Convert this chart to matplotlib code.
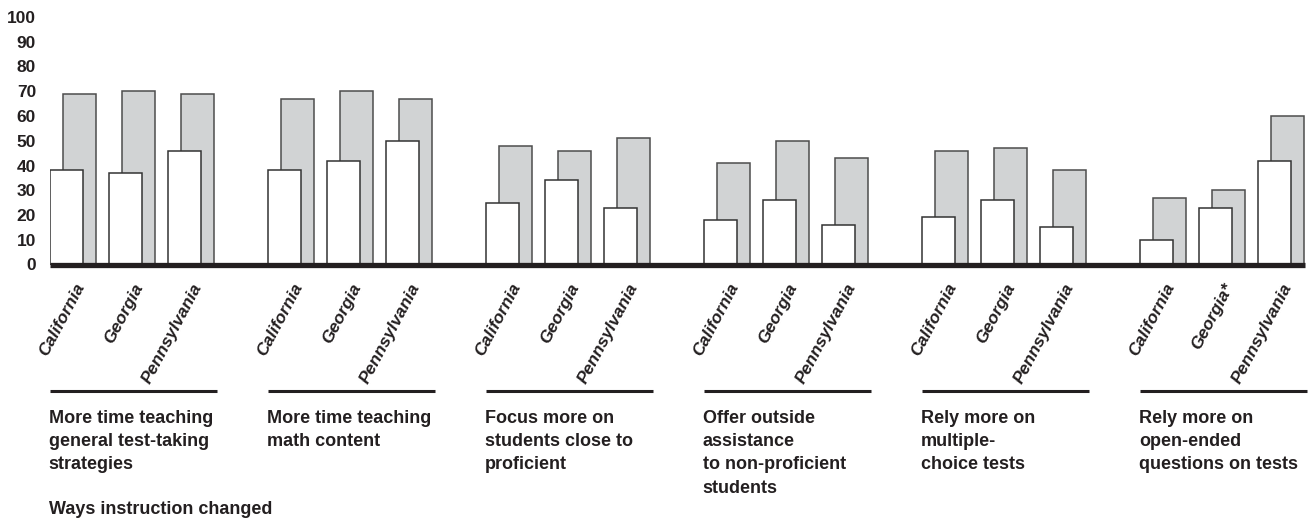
import matplotlib
matplotlib.use('Agg')
import matplotlib.pyplot as plt
from matplotlib.transforms import blended_transform_factory

groups = ['More time teaching\ngeneral test-taking\nstrategies',
          'More time teaching\nmath content',
          'Focus more on\nstudents close to\nproficient',
          'Offer outside\nassistance\nto non-proficient\nstudents',
          'Rely more on\nmultiple-\nchoice tests',
          'Rely more on\nopen-ended\nquestions on tests']
states = ['California', 'Georgia', 'Pennsylvania']
# group 6 Georgia carries an asterisk in the source
state_labels = [states, states, states, states, states,
                ['California', 'Georgia*', 'Pennsylvania']]

# grey (back) bars and white (front) bars, percent
back_values = [[69, 70, 69],
               [67, 70, 67],
               [48, 46, 51],
               [41, 50, 43],
               [46, 47, 38],
               [27, 30, 60]]
front_values = [[38, 37, 46],
                [38, 42, 50],
                [25, 34, 23],
                [18, 26, 16],
                [19, 26, 15],
                [10, 23, 42]]

yticks = list(range(0, 101, 10))
footer = 'Ways instruction changed'

ink = '#231f20'
grey = '#d1d3d4'
plt.rcParams['font.family'] = ['Liberation Sans', 'DejaVu Sans']

group_gap = 3.695
width = 0.56
shift = 0.22

fig = plt.figure(figsize=(13.08, 5.23), dpi=100)
ax = fig.add_axes([50 / 1308, 1 - 264.5 / 523, 1255 / 1308, 247.5 / 523])
mix = blended_transform_factory(ax.transData, fig.transFigure)

for g, name in enumerate(groups):
    x0 = g * group_gap
    for s in range(len(states)):
        x = x0 + s
        ax.bar(x + shift, back_values[g][s], width=width, align='edge',
               color=grey, edgecolor='#4d4d4d', linewidth=1.1, zorder=2)
        ax.bar(x, front_values[g][s], width=width, align='edge',
               color='white', edgecolor='#333333', linewidth=1.1, zorder=3)
        ax.text(x + shift + width / 2 + 0.13, 1 - 281 / 523, state_labels[g][s],
                transform=mix, rotation=62, ha='right', va='top',
                fontsize=12.5, fontweight='bold', fontstyle='italic', color=ink)
    ax.plot([x0, x0 + 2.83], [1 - 391 / 523, 1 - 391 / 523], transform=mix,
            color=ink, linewidth=2.2, clip_on=False, solid_capstyle='butt')
    ax.text(x0 - 0.02, 1 - 410 / 523, name, transform=mix, ha='left', va='top',
            fontsize=13, fontweight='bold', color=ink, linespacing=1.48)

ax.text(-0.02, 1 - 501 / 523, footer, transform=mix, ha='left', va='top',
        fontsize=13, fontweight='bold', color=ink)

ax.axhline(0, color=ink, linewidth=3.8, zorder=4, clip_on=False,
           solid_capstyle='butt')
ax.set_xlim(0, 21.27)
ax.set_ylim(0, 100)
ax.set_yticks(yticks)
ax.set_yticklabels([str(t) for t in yticks], fontsize=12.5, fontweight='bold', color=ink)
ax.tick_params(axis='y', length=0, pad=10)
ax.set_xticks([])
for side in ['top', 'right', 'left', 'bottom']:
    ax.spines[side].set_visible(False)

fig.savefig('out.png', dpi=100)
